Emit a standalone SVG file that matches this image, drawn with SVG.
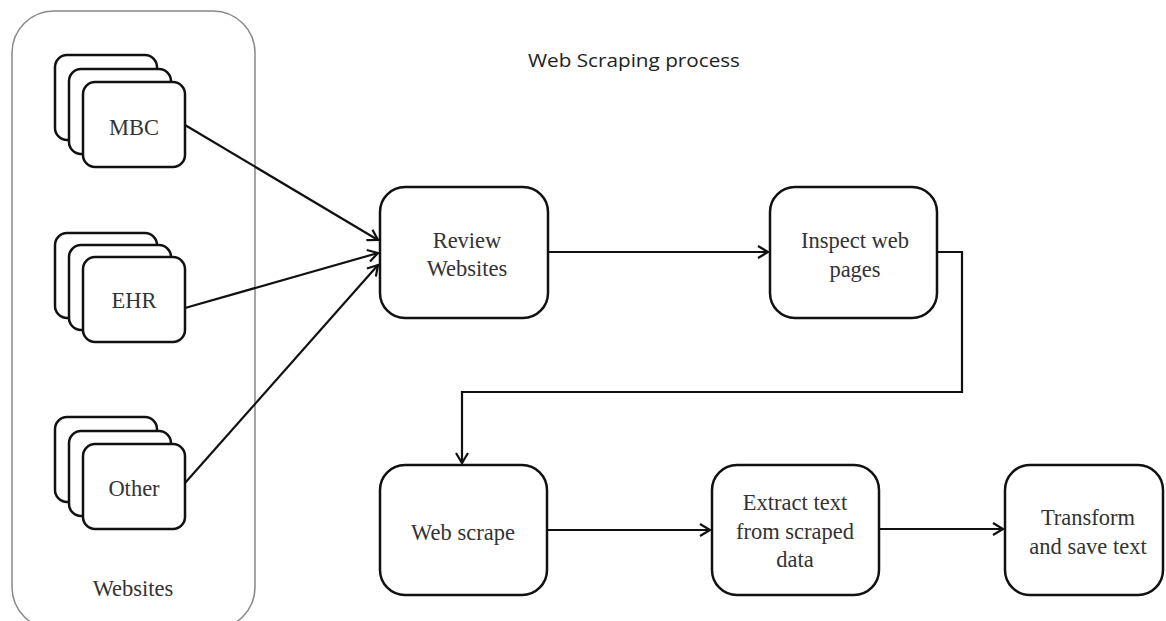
<svg xmlns="http://www.w3.org/2000/svg" width="1166" height="621" viewBox="0 0 1166 621">
<style>
.card{fill:#fff;stroke:#111;stroke-width:2.5}
.box{fill:#fff;stroke:#111;stroke-width:2.5}
.lbl{font-family:"Liberation Serif","Times New Roman",serif;font-size:22.5px;fill:#333;text-anchor:middle}
.con{fill:none;stroke:#111;stroke-width:2.2}
</style>
<defs>
<marker id="arr" markerWidth="14" markerHeight="14" refX="11" refY="7" orient="auto" markerUnits="userSpaceOnUse">
<path d="M1,1 L11,7 L1,13" fill="none" stroke="#111" stroke-width="2.2"/>
</marker>
</defs>
<rect width="1166" height="621" fill="#fff"/>
<text x="634" y="67" font-family="'Open Sans',sans-serif" font-size="18.5" fill="#222" text-anchor="middle" textLength="212" lengthAdjust="spacingAndGlyphs">Web Scraping process</text>
<g id="websites">
<rect x="12" y="11" width="243" height="618" rx="42" fill="none" stroke="#888" stroke-width="1.5"/>
<text class="lbl" x="133" y="596">Websites</text>
</g>
<g id="mbc">
<rect class="card" x="55" y="55" width="102" height="85" rx="12"/>
<rect class="card" x="69" y="69" width="102" height="85" rx="12"/>
<rect class="card" x="83" y="82" width="102" height="85" rx="12"/>
<text class="lbl" x="134" y="135">MBC</text>
</g>
<g id="ehr">
<rect class="card" x="55" y="233" width="102" height="85" rx="12"/>
<rect class="card" x="69" y="245" width="102" height="85" rx="12"/>
<rect class="card" x="83" y="257" width="102" height="85" rx="12"/>
<text class="lbl" x="134" y="308">EHR</text>
</g>
<g id="other">
<rect class="card" x="55" y="417" width="102" height="85" rx="12"/>
<rect class="card" x="69" y="431" width="102" height="85" rx="12"/>
<rect class="card" x="83" y="444" width="102" height="85" rx="12"/>
<text class="lbl" x="134" y="496">Other</text>
</g>
<g id="review">
<rect class="box" x="380" y="187" width="168" height="131" rx="25"/>
<text class="lbl" x="467" y="248">Review</text>
<text class="lbl" x="467" y="276">Websites</text>
</g>
<g id="inspect">
<rect class="box" x="770" y="187" width="167" height="131" rx="25"/>
<text class="lbl" x="855" y="248">Inspect web</text>
<text class="lbl" x="855" y="277">pages</text>
</g>
<g id="scrape">
<rect class="box" x="380" y="465" width="167" height="130" rx="25"/>
<text class="lbl" x="463" y="540">Web scrape</text>
</g>
<g id="extract">
<rect class="box" x="712" y="465" width="167" height="130" rx="25"/>
<text class="lbl" x="795" y="510">Extract text</text>
<text class="lbl" x="795" y="539">from scraped</text>
<text class="lbl" x="795" y="567">data</text>
</g>
<g id="transform">
<rect class="box" x="1005" y="465" width="158" height="130" rx="25"/>
<text class="lbl" x="1088" y="525">Transform</text>
<text class="lbl" x="1088" y="554">and save text</text>
</g>
<g id="connectors">
<line class="con" x1="185" y1="125" x2="378" y2="240" marker-end="url(#arr)"/>
<line class="con" x1="185" y1="308" x2="378" y2="253" marker-end="url(#arr)"/>
<line class="con" x1="185" y1="483" x2="378" y2="265" marker-end="url(#arr)"/>
<line class="con" x1="548" y1="252" x2="768" y2="252" marker-end="url(#arr)"/>
<polyline class="con" points="937,252 962,252 962,392 462,392 462,463" marker-end="url(#arr)"/>
<line class="con" x1="547" y1="530" x2="710" y2="530" marker-end="url(#arr)"/>
<line class="con" x1="879" y1="529" x2="1003" y2="529" marker-end="url(#arr)"/>
</g>
</svg>
